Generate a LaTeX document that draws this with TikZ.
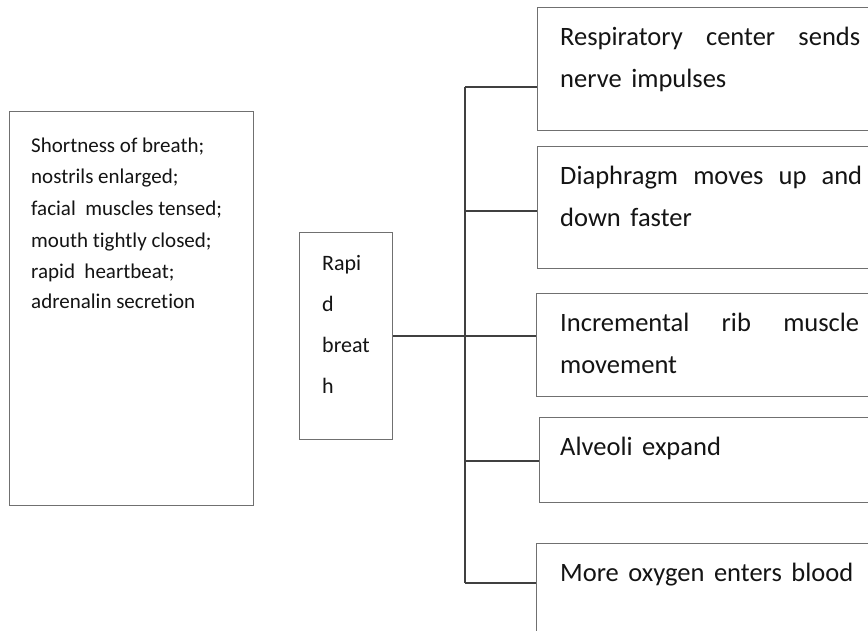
\documentclass[tikz,border=0pt]{standalone}
\usepackage{fontspec}
\setmainfont{Carlito}[Ligatures=CommonOff]
\newfontfamily\rfont{Carlito}[Ligatures=CommonOff,WordSpace={1.6,1,1}]
\definecolor{boxgray}{RGB}{112,112,112}
\definecolor{linegray}{RGB}{64,64,64}
\definecolor{txt}{RGB}{20,20,20}
\begin{document}
\begin{tikzpicture}[x=1pt,y=-1pt,
  box/.style={draw=boxgray, line width=1.1pt, anchor=north west, inner sep=0pt},
  conn/.style={draw=linegray, line width=1.5pt},
  ltext/.style={anchor=base west, inner sep=0pt, text=txt, font=\fontsize{21}{25}\selectfont},
  mtext/.style={anchor=base west, inner sep=0pt, text=txt, font=\fontsize{22}{26}\selectfont},
  rtext/.style={anchor=base west, inner sep=0pt, text=txt, font=\rfont\fontsize{26.5}{31}\selectfont}]
\useasboundingbox (0,0) rectangle (868,630);
\clip (0,0) rectangle (868,630);
\fill[white] (0,0) rectangle (868,630);
% boxes
\node[box, minimum width=244pt, minimum height=394pt] (L) at (9,111) {};
\node[box, minimum width=93pt, minimum height=207pt] (M) at (299,232) {};
\node[box, minimum width=345pt, minimum height=123pt] (R1) at (537,7) {};
\node[box, minimum width=345pt, minimum height=122pt] (R2) at (537,146) {};
\node[box, minimum width=346pt, minimum height=103pt] (R3) at (536,293) {};
\node[box, minimum width=343pt, minimum height=85pt] (R4) at (539,417) {};
\node[box, minimum width=346pt, minimum height=110pt] (R5) at (536,543) {};
% left text
\node[ltext] (l1) at (31,152) {Shortness of breath;};
\node[ltext] (l2) at (31,183) {nostrils enlarged;};
\node[ltext] (l3) at (31,215) {facial\ \ muscles tensed;};
\node[ltext] (l4) at (31,247) {mouth tightly closed;};
\node[ltext] (l5) at (31,278) {rapid\ \ heartbeat;};
\node[ltext] (l6) at (31,308) {adrenalin secretion};
% middle text
\node[mtext] (m1) at (322,270) {Rapi};
\node[mtext] (m2) at (322,311) {d};
\node[mtext] (m3) at (322,352) {breat};
\node[mtext] (m4) at (322,393) {h};
% right texts
\node[rtext] (r1a) at (560,45) {\makebox[300pt][s]{Respiratory center sends}};
\node[rtext] (r1b) at (560,87) {nerve impulses};
\node[rtext] (r2a) at (560,184) {\makebox[302pt][s]{Diaphragm moves up and}};
\node[rtext] (r2b) at (560,226) {down faster};
\node[rtext] (r3a) at (560,331) {\makebox[299pt][s]{Incremental rib muscle}};
\node[rtext] (r3b) at (560,373) {movement};
\node[rtext] (r4a) at (560,455) {Alveoli expand};
\node[rtext] (r5a) at (560,581) {More oxygen enters blood};
% connectors
\coordinate (t1) at (465,87);
\coordinate (t2) at (465,211);
\coordinate (t4) at (465,461);
\coordinate (t5) at (465,583);
\draw[conn] (t1) -- (t5);
\draw[conn] (t1) -- (t1 -| R1.west);
\draw[conn] (t2) -- (t2 -| R2.west);
\draw[conn] (M.east) -- (M.east -| R3.west);
\draw[conn] (t4) -- (t4 -| R4.west);
\draw[conn] (t5) -- (t5 -| R5.west);
\end{tikzpicture}
\end{document}
